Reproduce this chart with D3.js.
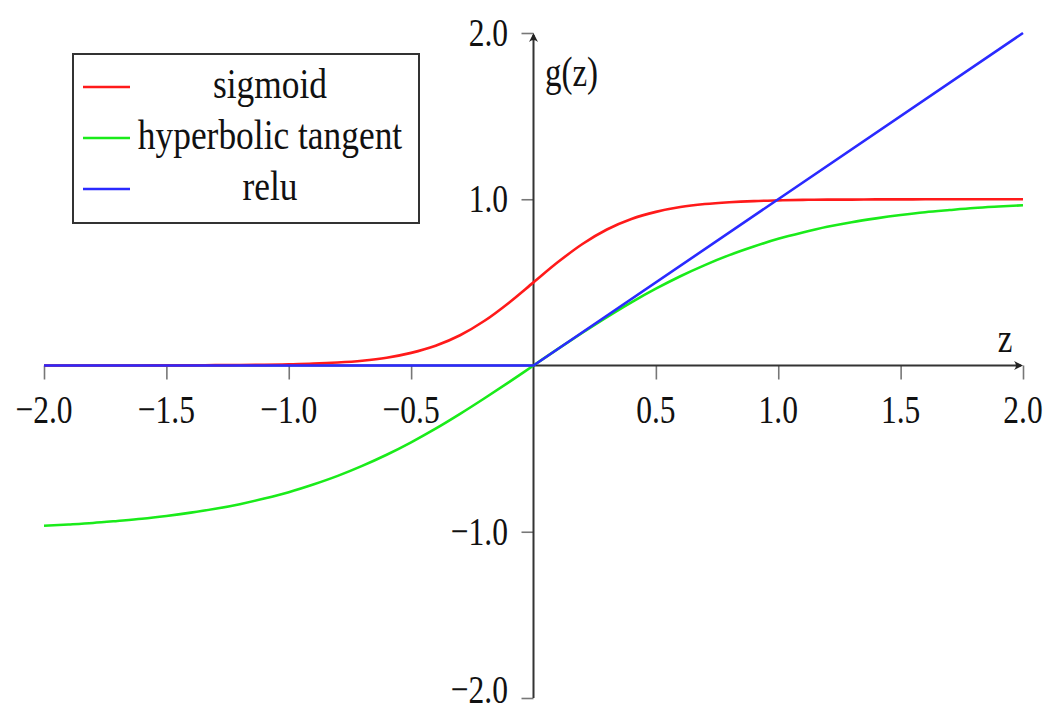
<!DOCTYPE html>
<html>
<head>
<meta charset="utf-8">
<script src="https://cdn.jsdelivr.net/npm/d3@7"></script>
<style>
  body { margin: 0; background: #fff; }
  text { font-family: "Liberation Serif", "DejaVu Serif", serif; fill: #111; }
</style>
</head>
<body>
<script>
// sample points
var zValues = [-2.0, -1.9, -1.8, -1.7, -1.6, -1.5, -1.4, -1.3, -1.2, -1.1,
               -1.0, -0.9, -0.8, -0.7, -0.6, -0.5, -0.4, -0.3, -0.2, -0.1,
                0.0,  0.1,  0.2,  0.3,  0.4,  0.5,  0.6,  0.7,  0.8,  0.9,
                1.0,  1.1,  1.2,  1.3,  1.4,  1.5,  1.6,  1.7,  1.8,  1.9, 2.0]
var sigmoidValues = [0.000, 0.000, 0.000, 0.000, 0.000, 0.001, 0.001, 0.002, 0.003, 0.004,
                     0.007, 0.011, 0.018, 0.029, 0.047, 0.076, 0.119, 0.182, 0.269, 0.378,
                     0.500, 0.622, 0.731, 0.818, 0.881, 0.924, 0.953, 0.971, 0.982, 0.989,
                     0.993, 0.996, 0.998, 0.998, 0.999, 0.999, 1.000, 1.000, 1.000, 1.000, 1.000]
var tanhValues = [-0.964, -0.956, -0.947, -0.935, -0.922, -0.905, -0.885, -0.862, -0.834, -0.800,
                  -0.762, -0.716, -0.664, -0.604, -0.537, -0.462, -0.380, -0.291, -0.197, -0.100,
                   0.000,  0.100,  0.197,  0.291,  0.380,  0.462,  0.537,  0.604,  0.664,  0.716,
                   0.762,  0.800,  0.834,  0.862,  0.885,  0.905,  0.922,  0.935,  0.947,  0.956, 0.964]
var reluZ = [-2.0, 0.0, 2.0]
var reluValues = [0.0, 0.0, 2.0]

var xTicks = [-2.0, -1.5, -1.0, -0.5, 0.5, 1.0, 1.5, 2.0]
var yTicks = [-2.0, -1.0, 1.0, 2.0]
var seriesNames = ['sigmoid', 'hyperbolic tangent', 'relu']
var seriesColors = ['#ff1a1a', '#1aeb1a', '#2a2aff']

var width = 1049, height = 713

var svg = d3.select(document.body).append('svg')
  .attr('width', width)
  .attr('height', height)

var x = d3.scaleLinear().domain([-2, 2]).range([44, 1023])
var y = d3.scaleLinear().domain([-2, 2]).range([698, 33])
var fmt = d3.format('.1f')

// text is drawn stretched, like the picture
function label(g, tx, ty, str, anchor, sx, sy) {
  return g.append('text')
    .attr('transform', 'translate(' + tx + ',' + ty + ') scale(' + sx + ',' + sy + ')')
    .attr('text-anchor', anchor)
    .attr('font-size', 30)
    .text(str)
}

// ticks
var xAxis = svg.append('g')
  .attr('transform', 'translate(0,' + y(0) + ')')
  .call(d3.axisBottom(x).tickValues(xTicks).tickSize(14).tickSizeOuter(0).tickFormat(''))
var yAxis = svg.append('g')
  .attr('transform', 'translate(' + x(0) + ',0)')
  .call(d3.axisLeft(y).tickValues(yTicks).tickSize(12).tickSizeOuter(0).tickFormat(''))
svg.selectAll('.domain').remove()
svg.selectAll('.tick line').attr('stroke', '#777').attr('stroke-width', 1.6)

xTicks.forEach(function(t) {
  label(svg, x(t), 423, fmt(t), 'middle', 1.05, 1.36)
})
yTicks.forEach(function(t) {
  // bottom label kept inside the frame
  label(svg, 508, Math.min(y(t) + 13, 703), fmt(t), 'end', 1.05, 1.36)
})

// axis lines with arrows
svg.append('line')
  .attr('x1', x(-2)).attr('x2', x(2) - 2)
  .attr('y1', y(0)).attr('y2', y(0))
  .attr('stroke', '#333').attr('stroke-width', 2)
svg.append('line')
  .attr('x1', x(0)).attr('x2', x(0))
  .attr('y1', y(-2)).attr('y2', y(2) + 2)
  .attr('stroke', '#333').attr('stroke-width', 2)
svg.append('path')
  .attr('d', 'M' + (x(2) - 9) + ',' + (y(0) - 4.5) + ' Q' + (x(2) - 5) + ',' + y(0) + ' ' + (x(2) - 9) + ',' + (y(0) + 4.5) + ' L' + x(2) + ',' + y(0) + ' Z')
  .attr('fill', '#222')
svg.append('path')
  .attr('d', 'M' + (x(0) - 4.5) + ',' + (y(2) + 9) + ' Q' + x(0) + ',' + (y(2) + 5) + ' ' + (x(0) + 4.5) + ',' + (y(2) + 9) + ' L' + x(0) + ',' + y(2) + ' Z')
  .attr('fill', '#222')

label(svg, 1005, 352, 'z', 'middle', 1.1, 1.4)
label(svg, 545, 86, 'g(z)', 'start', 1.1, 1.4)

// curves
var smooth = d3.line()
  .x(function(d) { return x(d[0]) })
  .y(function(d) { return y(d[1]) })
  .curve(d3.curveMonotoneX)
var straight = d3.line()
  .x(function(d) { return x(d[0]) })
  .y(function(d) { return y(d[1]) })

var series = [
  smooth(d3.zip(zValues, sigmoidValues)),
  smooth(d3.zip(zValues, tanhValues)),
  straight(d3.zip(reluZ, reluValues))
]
series.forEach(function(d, i) {
  svg.append('path')
    .attr('d', d)
    .attr('fill', 'none')
    .attr('stroke', seriesColors[i])
    .attr('stroke-width', 2.6)
})

// legend
var legend = svg.append('g')
legend.append('rect')
  .attr('x', 73).attr('y', 54)
  .attr('width', 346).attr('height', 169)
  .attr('fill', '#fff')
  .attr('stroke', '#333')
  .attr('stroke-width', 2)
var rowY = [87, 138, 189]
seriesNames.forEach(function(name, i) {
  legend.append('line')
    .attr('x1', 83).attr('x2', 130)
    .attr('y1', rowY[i]).attr('y2', rowY[i])
    .attr('stroke', seriesColors[i])
    .attr('stroke-width', 2.6)
  label(legend, 270, rowY[i] + 11, name, 'middle', 1.18, 1.4)
})
</script>
</body>
</html>
